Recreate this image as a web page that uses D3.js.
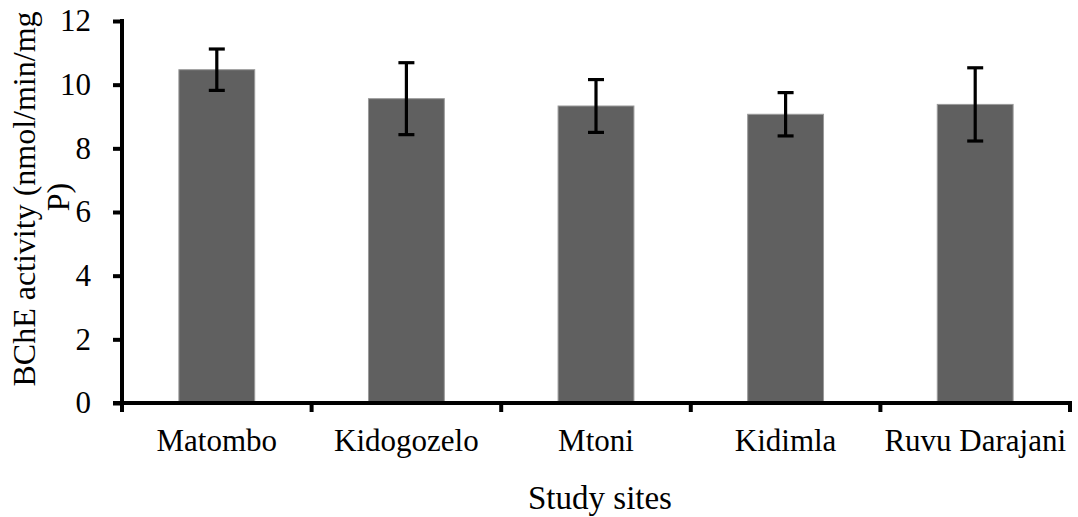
<!DOCTYPE html>
<html>
<head>
<meta charset="utf-8">
<script src="https://cdn.jsdelivr.net/npm/d3@7"></script>
<style>
  html, body { margin: 0; padding: 0; background: #fff; }
  svg { display: block; }
  text { font-family: "Liberation Serif", "Times New Roman", serif; fill: #000; }
</style>
</head>
<body>
<svg id="chart" width="1078" height="517"></svg>
<script>
// BChE activity by study site — bar chart with error bars.

const sites = ["Matombo", "Kidogozelo", "Mtoni", "Kidimla", "Ruvu Darajani"];
const means = [10.47, 9.56, 9.33, 9.07, 9.38];
const errors = [0.65, 1.13, 0.83, 0.68, 1.15];
const yTicks = [0, 2, 4, 6, 8, 10, 12];

const svg = d3.select("#chart");
const plotLeft = 122, plotRight = 1070, plotTop = 21, plotBottom = 403;
const fontSize = 31;

const x = d3.scaleBand().domain(sites).range([plotLeft, plotRight]).padding(0);
const y = d3.scaleLinear().domain([0, 12]).range([plotBottom, plotTop]);

const rows = sites.map((s, i) => ({ site: s, mean: means[i], err: errors[i] }));
const barW = x.bandwidth() * 0.4;

// bars
svg.append("g").selectAll("rect")
  .data(rows)
  .join("rect")
  .attr("x", d => x(d.site) + (x.bandwidth() - barW) / 2)
  .attr("y", d => y(d.mean))
  .attr("width", barW)
  .attr("height", d => y(0) - y(d.mean))
  .attr("fill", "#606060")
  .attr("stroke", "#9a9a9a")
  .attr("stroke-width", 1);

// error bars
const eb = svg.append("g").attr("stroke", "#000").attr("stroke-width", 3.2);
rows.forEach(d => {
  const cx = x(d.site) + x.bandwidth() / 2;
  const y1 = y(d.mean + d.err), y2 = y(d.mean - d.err);
  eb.append("line").attr("x1", cx).attr("x2", cx).attr("y1", y1).attr("y2", y2);
  eb.append("line").attr("x1", cx - 8).attr("x2", cx + 8).attr("y1", y1).attr("y2", y1);
  eb.append("line").attr("x1", cx - 8).attr("x2", cx + 8).attr("y1", y2).attr("y2", y2);
});

// y axis
const yAxis = svg.append("g")
  .attr("transform", `translate(${plotLeft},0)`)
  .call(d3.axisLeft(y).tickValues(yTicks).tickSize(9).tickPadding(22).tickFormat(d3.format("d")));
yAxis.attr("font-family", null);
yAxis.select(".domain").attr("stroke", "#000").attr("stroke-width", 4)
  .attr("d", `M0,${y(0)}V${y(12) - 2}`);
yAxis.selectAll(".tick line").attr("stroke", "#000").attr("stroke-width", 4);
yAxis.selectAll(".tick text").style("font-size", fontSize + "px")
  .style("font-family", "'Liberation Serif', 'Times New Roman', serif");

// x axis: line, boundary ticks and centred labels
const xAxis = svg.append("g");
xAxis.append("line")
  .attr("x1", plotLeft - 9).attr("x2", plotRight + 2)
  .attr("y1", y(0)).attr("y2", y(0))
  .attr("stroke", "#000").attr("stroke-width", 4);
const bounds = sites.map(s => x(s)).concat([x(sites[sites.length - 1]) + x.bandwidth()]);
xAxis.selectAll("line.xtick")
  .data(bounds)
  .join("line")
  .attr("class", "xtick")
  .attr("x1", d => d).attr("x2", d => d)
  .attr("y1", y(0)).attr("y2", y(0) + 9)
  .attr("stroke", "#000").attr("stroke-width", 4);
xAxis.selectAll("text")
  .data(sites)
  .join("text")
  .attr("x", d => x(d) + x.bandwidth() / 2)
  .attr("y", 451)
  .attr("text-anchor", "middle")
  .style("font-size", fontSize + "px")
  .text(d => d);

// axis titles
svg.append("text")
  .attr("x", 600)
  .attr("y", 509)
  .attr("text-anchor", "middle")
  .style("font-size", "33px")
  .text("Study sites");

const yt = svg.append("text")
  .attr("transform", "translate(35,199) rotate(-90)")
  .attr("text-anchor", "middle")
  .style("font-size", "32px");
yt.append("tspan").attr("x", 0).attr("y", 0).text("BChE activity (nmol/min/mg");
yt.append("tspan").attr("x", 2).attr("y", 34).text("P)");
</script>
</body>
</html>
